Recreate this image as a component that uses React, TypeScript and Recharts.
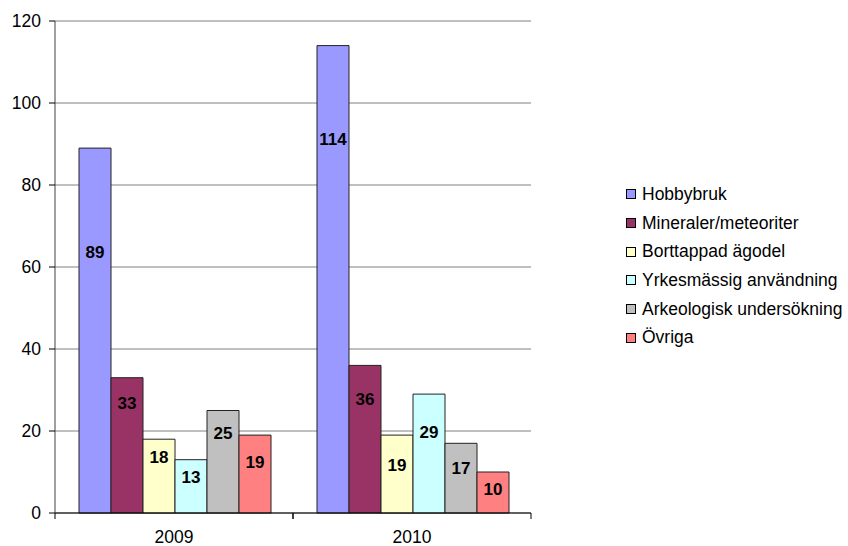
import React from 'react';
import { BarChart, Bar, XAxis, YAxis, CartesianGrid, Legend, LabelList } from 'recharts';

const categories = ['2009', '2010'];
const hobbybruk = [89, 114];
const mineraler = [33, 36];
const borttappad = [18, 19];
const yrkes = [13, 29];
const arkeologisk = [25, 17];
const ovriga = [19, 10];
const yTicks = [0, 20, 40, 60, 80, 100, 120];

const seriesDefs = [
  { key: 'Hobbybruk', values: hobbybruk, color: '#9999FF' },
  { key: 'Mineraler/meteoriter', values: mineraler, color: '#993366' },
  { key: 'Borttappad ägodel', values: borttappad, color: '#FFFFCC' },
  { key: 'Yrkesmässig användning', values: yrkes, color: '#CCFFFF' },
  { key: 'Arkeologisk undersökning', values: arkeologisk, color: '#C0C0C0' },
  { key: 'Övriga', values: ovriga, color: '#FF8080' },
];

// label centre offsets (px) below bar top, per series per category (style only)
const labelOffsets: number[][] = [
  [104, 94],
  [26, 34],
  [18, 30],
  [18, 38],
  [23, 25],
  [27, 17],
];

const data = categories.map((c, i) => {
  const row: Record<string, any> = { name: c };
  seriesDefs.forEach((s) => (row[s.key] = s.values[i]));
  return row;
});

const FONT = 'Liberation Sans, Arial, sans-serif';

const XTick = (props: any) => {
  const { x, y, payload } = props;
  const band = 238;
  return (
    <g>
      <line x1={x - band / 2} y1={y - 8} x2={x - band / 2} y2={y - 2} stroke="#000" />
      <line x1={x + band / 2} y1={y - 8} x2={x + band / 2} y2={y - 2} stroke="#000" />
      <text x={x} y={y + 22} textAnchor="middle" fontSize={17.5} fontFamily={FONT} fill="#000">
        {payload.value}
      </text>
    </g>
  );
};

const makeLabel = (si: number) => (props: any) => {
  const { x, y, width, value, index } = props;
  const off = labelOffsets[si][index];
  return (
    <text
      x={x + width / 2}
      y={y + off}
      textAnchor="middle"
      dominantBaseline="central"
      fontSize={17}
      fontWeight="bold"
      fontFamily={FONT}
      fill="#000"
    >
      {value}
    </text>
  );
};

const LegendContent = () => (
  <div style={{ position: 'absolute', left: 626, top: 180, fontFamily: FONT, fontSize: 17.5 }}>
    {seriesDefs.map((s) => (
      <div key={s.key} style={{ display: 'flex', alignItems: 'center', height: 28.7, whiteSpace: 'nowrap' }}>
        <svg width={16} height={10}>
          <rect x={0.5} y={0.5} width={9} height={9} fill={s.color} stroke="#000" strokeWidth={1} />
        </svg>
        <span style={{ color: '#000' }}>{s.key}</span>
      </div>
    ))}
  </div>
);

export default function App() {
  return (
    <div style={{ position: 'absolute', left: 0, top: 0, width: 848, height: 546, background: '#fff' }}>
      <BarChart
        width={848}
        height={546}
        data={data}
        margin={{ top: 21, right: 317, bottom: 0, left: 0 }}
        barCategoryGap={24}
        barGap={0}
      >
        <CartesianGrid vertical={false} stroke="#808080" strokeWidth={1} />
        <XAxis
          dataKey="name"
          axisLine={{ stroke: '#000' }}
          tickLine={false}
          height={33}
          tick={<XTick />}
          interval={0}
        />
        <YAxis
          domain={[0, 120]}
          ticks={yTicks}
          width={55}
          axisLine={{ stroke: '#404040' }}
          tickLine={{ stroke: '#000' }}
          tickSize={6}
          tickMargin={8}
          tick={{ fontSize: 17.5, fontFamily: FONT, fill: '#000' }}
          interval={0}
        />
        <YAxis
          yAxisId="r"
          orientation="right"
          domain={[0, 120]}
          width={0}
          tick={false}
          tickLine={false}
          axisLine={{ stroke: '#888', strokeWidth: 2 }}
        />
        <Legend content={<LegendContent />} wrapperStyle={{ position: 'absolute', left: 0, top: 0, width: 0, height: 0 }} />
        {seriesDefs.map((s, si) => (
          <Bar key={s.key} dataKey={s.key} fill={s.color} stroke="#222" strokeWidth={1} isAnimationActive={false}>
            <LabelList dataKey={s.key} content={makeLabel(si)} />
          </Bar>
        ))}
      </BarChart>
    </div>
  );
}
